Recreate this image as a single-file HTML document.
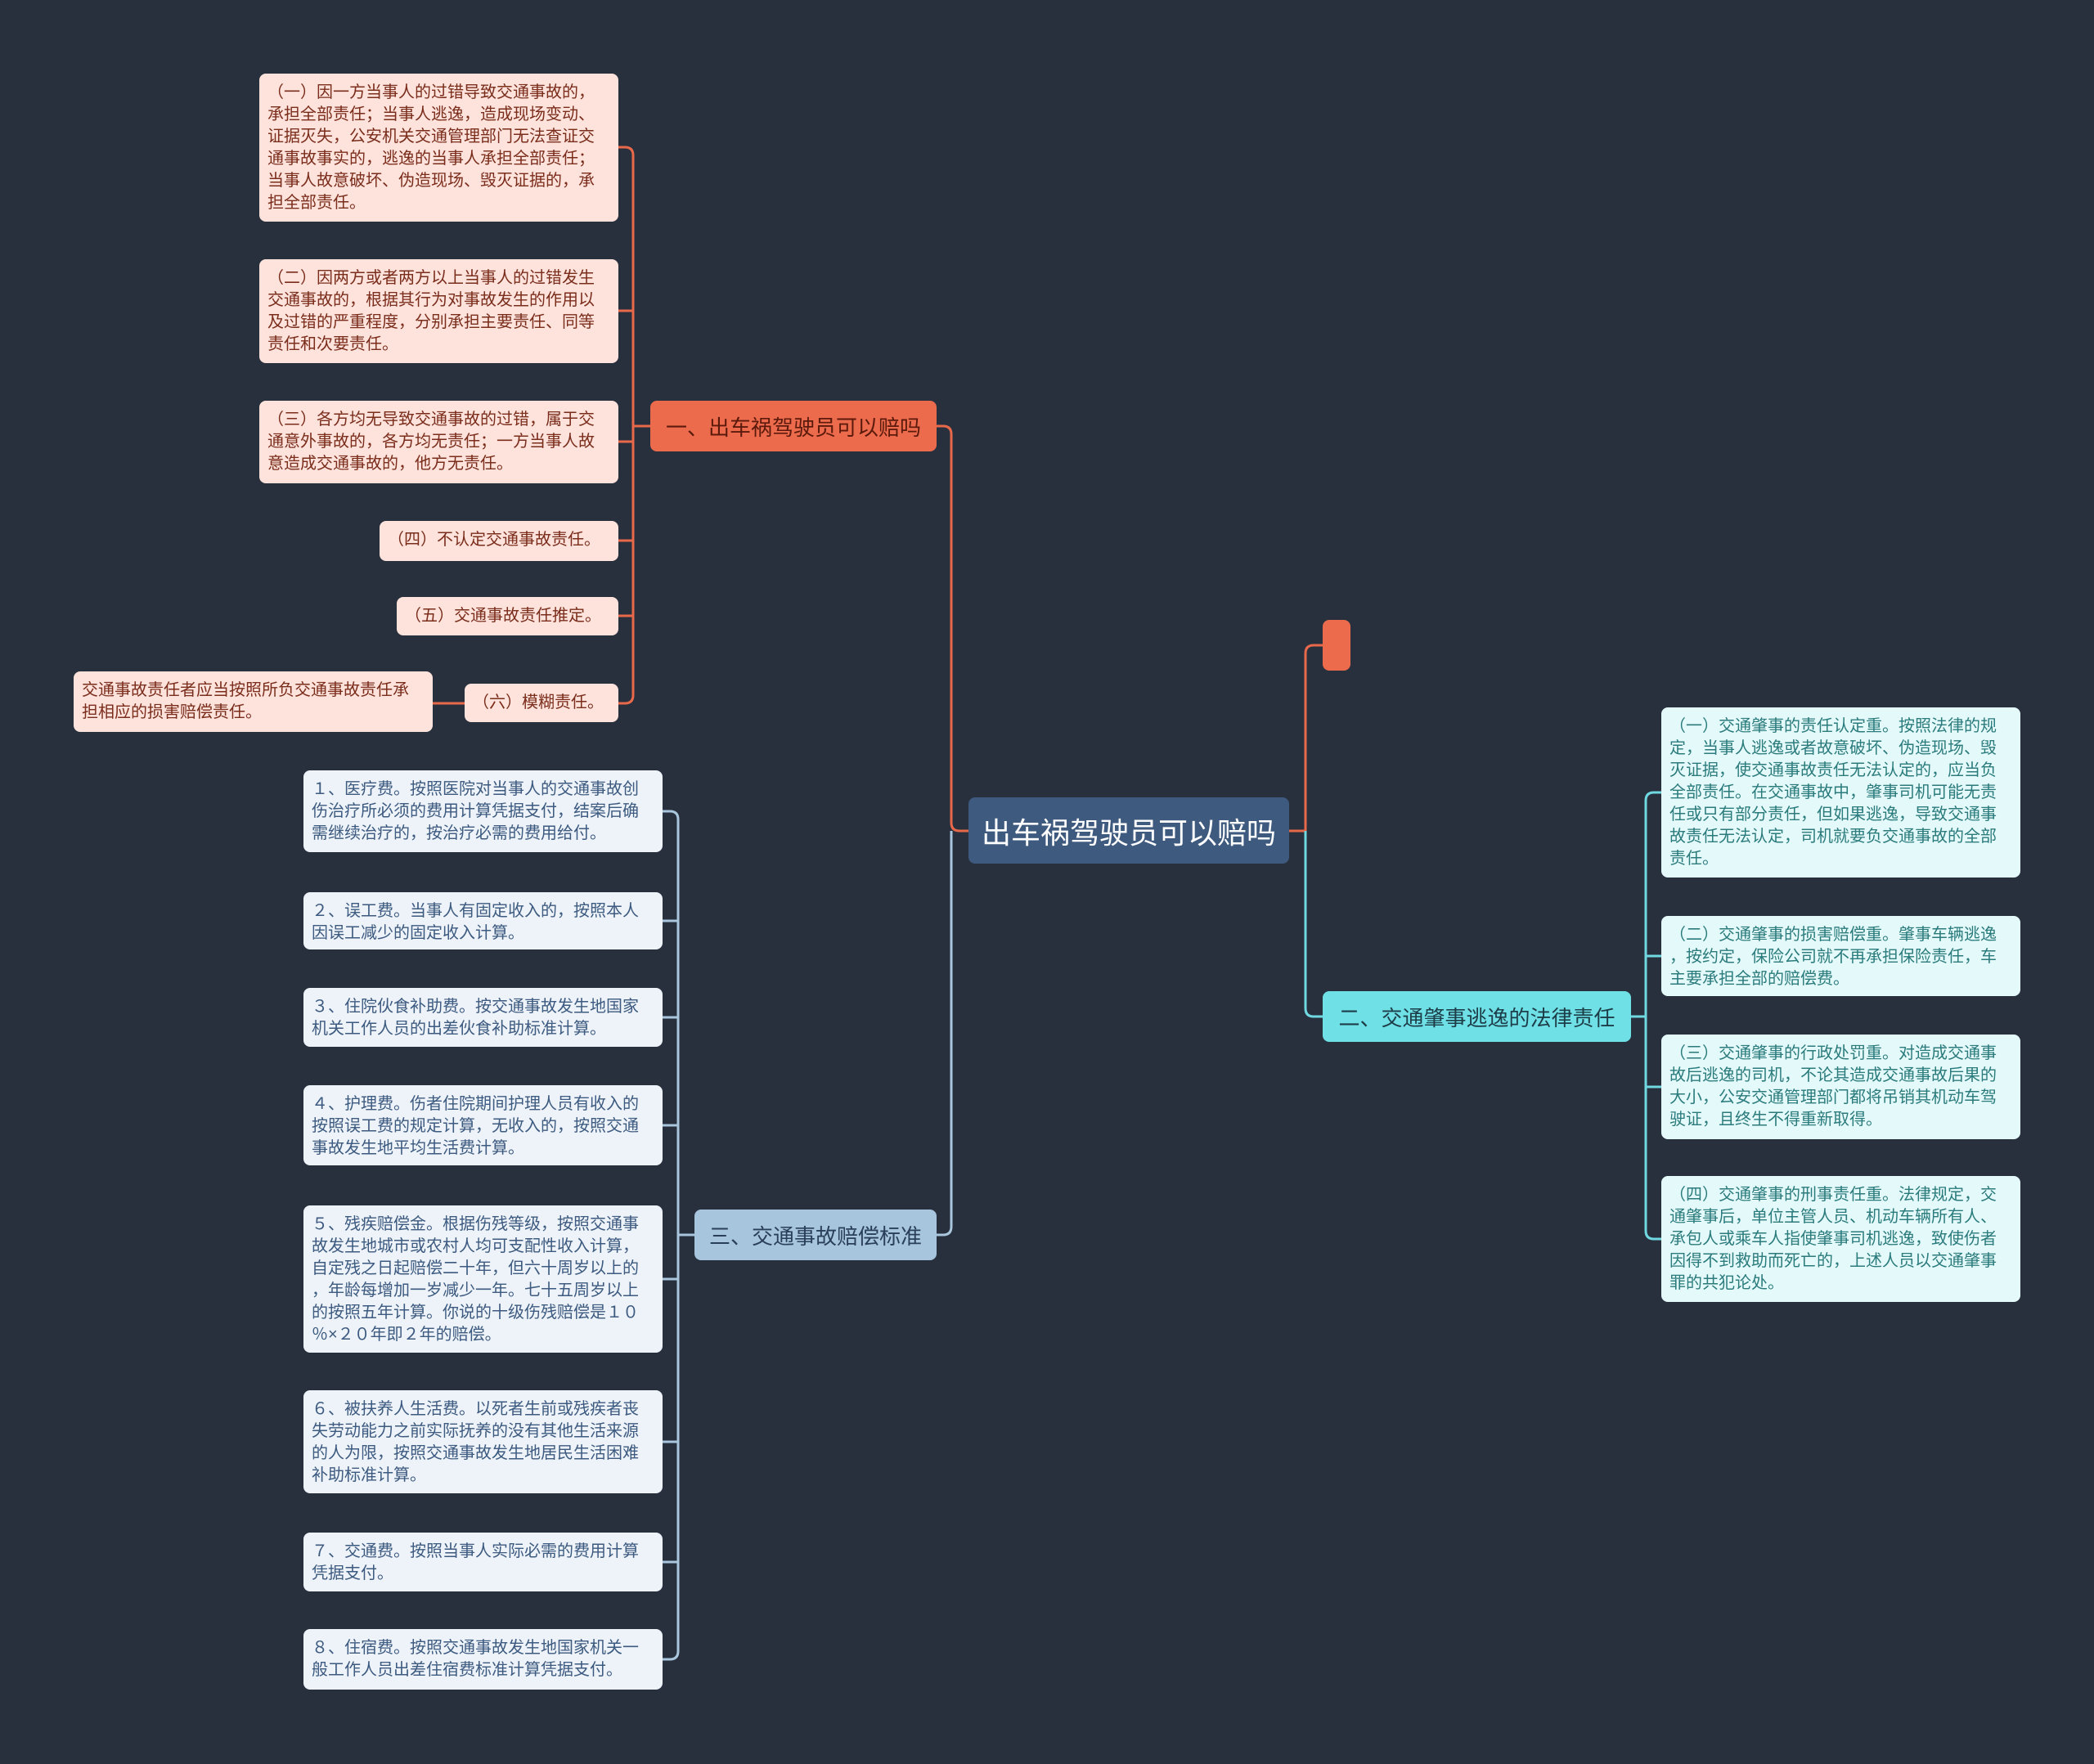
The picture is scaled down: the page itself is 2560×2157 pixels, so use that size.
<!DOCTYPE html>
<html><head><meta charset="utf-8"><style>
html,body{margin:0;padding:0}
body{width:2560px;height:2157px;background:#28303e;position:relative;overflow:hidden;font-family:"Liberation Sans","Noto Sans CJK SC",sans-serif}
.n{position:absolute;box-sizing:border-box;border-radius:8px}
.p,.b,.c{font-size:20px;line-height:27px;padding:10px 6px 10px 10px;white-space:nowrap;overflow:hidden}
.p{background:#fde3dc;color:#7b2d1c}
.b{background:#edf3f8;color:#3d5a80}
.c{background:#e4fafa;color:#2b7b7d}
.br{display:flex;align-items:center;justify-content:center;font-size:26px;white-space:nowrap}
svg{position:absolute;left:0;top:0}
</style></head><body>
<svg width="2560" height="2157" fill="none" stroke-width="3">
<g stroke="#e8694a">
<path d="M1184 1016 H1173 Q1163 1016 1163 1006 V531 Q1163 521 1153 521 H1145"/>
<path d="M795 521 H774"/>
<path d="M756 180 H764 Q774 180 774 190 V850 Q774 860 764 860 H756"/>
<path d="M756 380 H774 M756 540 H774 M756 661 H774 M756 753 H774"/>
<path d="M568 860 H529"/>
<path d="M1576 1016 H1596 V799 Q1596 789 1606 789 H1617"/>
</g>
<g stroke="#a9c6dd">
<path d="M1163 1016 V1500 Q1163 1510 1153 1510 H1145"/>
<path d="M849 1510 H829"/>
<path d="M810 992 H819 Q829 992 829 1002 V2019 Q829 2029 819 2029 H810"/>
<path d="M810 1126 H829 M810 1244 H829 M810 1376 H829 M810 1564 H829 M810 1763 H829 M810 1910 H829"/>
</g>
<g stroke="#6fd8e0">
<path d="M1596 1016 V1233 Q1596 1243 1606 1243 H1617"/>
<path d="M1994 1243 H2012"/>
<path d="M2031 969 H2022 Q2012 969 2012 979 V1505 Q2012 1515 2022 1515 H2031"/>
<path d="M2031 1169 H2012 M2031 1329 H2012"/>
</g>
</svg>

<div class="n br" style="left:1184px;top:975px;width:392px;height:81px;background:#3e5a7e;color:#fff;font-size:36px">出车祸驾驶员可以赔吗</div>
<div class="n br" style="left:795px;top:490px;width:350px;height:62px;background:#ec6b4c;color:#5b1a0c">一、出车祸驾驶员可以赔吗</div>
<div class="n" style="left:1617px;top:758px;width:34px;height:62px;background:#ec6b4c"></div>
<div class="n br" style="left:1617px;top:1212px;width:377px;height:62px;background:#6fe0e6;color:#1d3d48">二、交通肇事逃逸的法律责任</div>
<div class="n br" style="left:849px;top:1479px;width:296px;height:62px;background:#a7c5dd;color:#2a3f5a">三、交通事故赔偿标准</div>

<div class="n p" style="left:317px;top:90px;width:439px;height:181px">（一）因一方当事人的过错导致交通事故的，<br>承担全部责任；当事人逃逸，造成现场变动、<br>证据灭失，公安机关交通管理部门无法查证交<br>通事故事实的，逃逸的当事人承担全部责任；<br>当事人故意破坏、伪造现场、毁灭证据的，承<br>担全部责任。</div>
<div class="n p" style="left:317px;top:317px;width:439px;height:127px">（二）因两方或者两方以上当事人的过错发生<br>交通事故的，根据其行为对事故发生的作用以<br>及过错的严重程度，分别承担主要责任、同等<br>责任和次要责任。</div>
<div class="n p" style="left:317px;top:490px;width:439px;height:101px">（三）各方均无导致交通事故的过错，属于交<br>通意外事故的，各方均无责任；一方当事人故<br>意造成交通事故的，他方无责任。</div>
<div class="n p" style="left:464px;top:637px;width:292px;height:49px">（四）不认定交通事故责任。</div>
<div class="n p" style="left:485px;top:730px;width:271px;height:47px">（五）交通事故责任推定。</div>
<div class="n p" style="left:568px;top:836px;width:188px;height:47px">（六）模糊责任。</div>
<div class="n p" style="left:90px;top:821px;width:439px;height:74px">交通事故责任者应当按照所负交通事故责任承<br>担相应的损害赔偿责任。</div>

<div class="n b" style="left:371px;top:942px;width:439px;height:100px">１、医疗费。按照医院对当事人的交通事故创<br>伤治疗所必须的费用计算凭据支付，结案后确<br>需继续治疗的，按治疗必需的费用给付。</div>
<div class="n b" style="left:371px;top:1091px;width:439px;height:70px">２、误工费。当事人有固定收入的，按照本人<br>因误工减少的固定收入计算。</div>
<div class="n b" style="left:371px;top:1208px;width:439px;height:72px">３、住院伙食补助费。按交通事故发生地国家<br>机关工作人员的出差伙食补助标准计算。</div>
<div class="n b" style="left:371px;top:1327px;width:439px;height:98px">４、护理费。伤者住院期间护理人员有收入的<br>按照误工费的规定计算，无收入的，按照交通<br>事故发生地平均生活费计算。</div>
<div class="n b" style="left:371px;top:1474px;width:439px;height:180px">５、残疾赔偿金。根据伤残等级，按照交通事<br>故发生地城市或农村人均可支配性收入计算，<br>自定残之日起赔偿二十年，但六十周岁以上的<br>，年龄每增加一岁减少一年。七十五周岁以上<br>的按照五年计算。你说的十级伤残赔偿是１０<br>％×２０年即２年的赔偿。</div>
<div class="n b" style="left:371px;top:1700px;width:439px;height:126px">６、被扶养人生活费。以死者生前或残疾者丧<br>失劳动能力之前实际抚养的没有其他生活来源<br>的人为限，按照交通事故发生地居民生活困难<br>补助标准计算。</div>
<div class="n b" style="left:371px;top:1874px;width:439px;height:72px">７、交通费。按照当事人实际必需的费用计算<br>凭据支付。</div>
<div class="n b" style="left:371px;top:1992px;width:439px;height:74px">８、住宿费。按照交通事故发生地国家机关一<br>般工作人员出差住宿费标准计算凭据支付。</div>

<div class="n c" style="left:2031px;top:865px;width:439px;height:208px">（一）交通肇事的责任认定重。按照法律的规<br>定，当事人逃逸或者故意破坏、伪造现场、毁<br>灭证据，使交通事故责任无法认定的，应当负<br>全部责任。在交通事故中，肇事司机可能无责<br>任或只有部分责任，但如果逃逸，导致交通事<br>故责任无法认定，司机就要负交通事故的全部<br>责任。</div>
<div class="n c" style="left:2031px;top:1120px;width:439px;height:98px">（二）交通肇事的损害赔偿重。肇事车辆逃逸<br>，按约定，保险公司就不再承担保险责任，车<br>主要承担全部的赔偿费。</div>
<div class="n c" style="left:2031px;top:1265px;width:439px;height:128px">（三）交通肇事的行政处罚重。对造成交通事<br>故后逃逸的司机，不论其造成交通事故后果的<br>大小，公安交通管理部门都将吊销其机动车驾<br>驶证，且终生不得重新取得。</div>
<div class="n c" style="left:2031px;top:1438px;width:439px;height:154px">（四）交通肇事的刑事责任重。法律规定，交<br>通肇事后，单位主管人员、机动车辆所有人、<br>承包人或乘车人指使肇事司机逃逸，致使伤者<br>因得不到救助而死亡的，上述人员以交通肇事<br>罪的共犯论处。</div>
</body></html>
